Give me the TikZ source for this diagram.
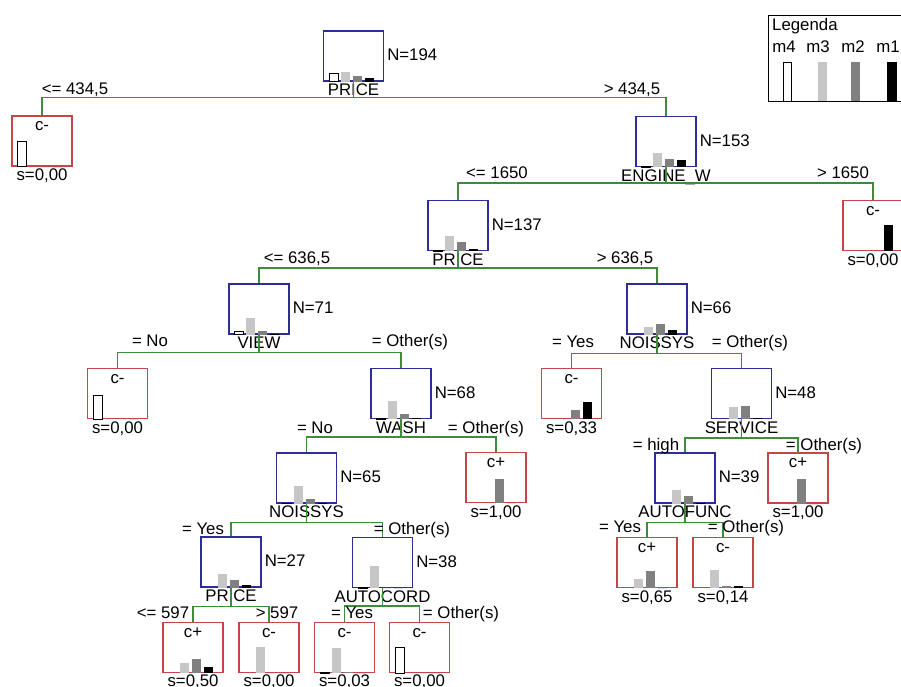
\documentclass[tikz,border=0pt]{standalone}
\usepackage{fontspec}
\setmainfont{Liberation Sans}
\usetikzlibrary{positioning}
\definecolor{splitblue}{RGB}{45,45,150}
\definecolor{leafred}{RGB}{196,70,70}
\definecolor{edgegreen}{RGB}{60,140,60}
\definecolor{mthree}{RGB}{198,198,198}
\definecolor{mtwo}{RGB}{128,128,128}
\tikzset{
  split/.style={draw=splitblue, line width=1.1pt, minimum width=60pt, minimum height=50pt, inner sep=0pt},
  leaf/.style={draw=leafred, line width=1.1pt, minimum width=60pt, minimum height=50pt, inner sep=0pt},
  txt/.style={inner sep=0pt, text height=12pt, text depth=3pt, font=\fontsize{16.8}{18}\selectfont},
  edge/.style={draw=edgegreen, line width=1.4pt},
  barfour/.style={draw=black, line width=0.8pt, fill=white},
  barthree/.style={fill=mthree},
  bartwo/.style={fill=mtwo},
  barone/.style={fill=black},
}
% class bars m4 m3 m2 m1 on the bottom of a box
\newcommand\hist[5]{%
  \ifdim#2pt>0pt \path[barfour] ([xshift=6pt]#1.south west) rectangle ++(9pt,#2pt);\fi
  \path[barthree] ([xshift=18pt]#1.south west) rectangle ++(9pt,#3pt);
  \path[bartwo] ([xshift=30pt]#1.south west) rectangle ++(9pt,#4pt);
  \path[barone] ([xshift=42pt]#1.south west) rectangle ++(9pt,#5pt);
}

\begin{document}
\begin{tikzpicture}[x=1pt, y=-1pt]
  \path[use as bounding box, fill=white] (0,0) rectangle (901,686);
  \clip (0,0) rectangle (901,686);

  % split nodes
  \node[split] (n1) at (353.5,56) {};
  \node[txt, right=3pt of n1] (n1N) {N=194};
  \node[txt, below=2pt of n1] (n1v) {PRICE};
  \node[split] (n2) at (666,141.5) {};
  \node[txt, right=3pt of n2] (n2N) {N=153};
  \node[txt, below=2pt of n2] (n2v) {ENGINE\_W};
  \node[split] (n3) at (458,225.5) {};
  \node[txt, right=3pt of n3] (n3N) {N=137};
  \node[txt, below=2pt of n3] (n3v) {PRICE};
  \node[split] (n4) at (259,309) {};
  \node[txt, right=3pt of n4] (n4N) {N=71};
  \node[txt, below=2pt of n4] (n4v) {VIEW};
  \node[split] (n5) at (657,309) {};
  \node[txt, right=3pt of n5] (n5N) {N=66};
  \node[txt, below=2pt of n5] (n5v) {NOISSYS};
  \node[split] (n6) at (401,393.5) {};
  \node[txt, right=3pt of n6] (n6N) {N=68};
  \node[txt, below=2pt of n6] (n6v) {WASH};
  \node[split] (n7) at (741.5,393.5) {};
  \node[txt, right=3pt of n7] (n7N) {N=48};
  \node[txt, below=2pt of n7] (n7v) {SERVICE};
  \node[split] (n8) at (306.5,478) {};
  \node[txt, right=3pt of n8] (n8N) {N=65};
  \node[txt, below=2pt of n8] (n8v) {NOISSYS};
  \node[split] (n9) at (685,478) {};
  \node[txt, right=3pt of n9] (n9N) {N=39};
  \node[txt, below=2pt of n9] (n9v) {AUTOFUNC};
  \node[split] (n10) at (231,562) {};
  \node[txt, right=3pt of n10] (n10N) {N=27};
  \node[txt, below=2pt of n10] (n10v) {PRICE};
  \node[split] (n11) at (382.5,562.5) {};
  \node[txt, right=3pt of n11] (n11N) {N=38};
  \node[txt, below=2pt of n11] (n11v) {AUTOCORD};

  % leaves
  \node[leaf] (l1) at (42,141) {};
  \node[txt, below=3pt of l1.north] (l1c) {c-};
  \node[txt, below=2pt of l1] (l1s) {s=0,00};
  \node[leaf] (l2) at (873,225.5) {};
  \node[txt, below=3pt of l2.north] (l2c) {c-};
  \node[txt, below=2pt of l2] (l2s) {s=0,00};
  \node[leaf] (l3) at (117.5,393.5) {};
  \node[txt, below=3pt of l3.north] (l3c) {c-};
  \node[txt, below=2pt of l3] (l3s) {s=0,00};
  \node[leaf] (l4) at (571.5,393.5) {};
  \node[txt, below=3pt of l4.north] (l4c) {c-};
  \node[txt, below=2pt of l4] (l4s) {s=0,33};
  \node[leaf] (l5) at (496,477.5) {};
  \node[txt, below=3pt of l5.north] (l5c) {c+};
  \node[txt, below=2pt of l5] (l5s) {s=1,00};
  \node[leaf] (l6) at (798,478) {};
  \node[txt, below=3pt of l6.north] (l6c) {c+};
  \node[txt, below=2pt of l6] (l6s) {s=1,00};
  \node[leaf] (l7) at (647,562.5) {};
  \node[txt, below=3pt of l7.north] (l7c) {c+};
  \node[txt, below=2pt of l7] (l7s) {s=0,65};
  \node[leaf] (l8) at (723,562.5) {};
  \node[txt, below=3pt of l8.north] (l8c) {c-};
  \node[txt, below=2pt of l8] (l8s) {s=0,14};
  \node[leaf] (l9) at (193,647.5) {};
  \node[txt, below=3pt of l9.north] (l9c) {c+};
  \node[txt, below=1pt of l9] (l9s) {s=0,50};
  \node[leaf] (l10) at (269,647.5) {};
  \node[txt, below=3pt of l10.north] (l10c) {c-};
  \node[txt, below=1pt of l10] (l10s) {s=0,00};
  \node[leaf] (l11) at (344.5,647.5) {};
  \node[txt, below=3pt of l11.north] (l11c) {c-};
  \node[txt, below=1pt of l11] (l11s) {s=0,03};
  \node[leaf] (l12) at (419.5,647.5) {};
  \node[txt, below=3pt of l12.north] (l12c) {c-};
  \node[txt, below=1pt of l12] (l12s) {s=0,00};

  % split points and edges
  \coordinate (s1) at ([yshift=-16pt]n1.south);
  \coordinate (s2) at ([yshift=-16pt]n2.south);
  \coordinate (s3) at ([yshift=-17pt]n3.south);
  \coordinate (s4) at ([yshift=-18pt]n4.south);
  \coordinate (s5) at ([yshift=-19pt]n5.south);
  \coordinate (s6) at ([yshift=-18pt]n6.south);
  \coordinate (s7) at ([yshift=-19pt]n7.south);
  \coordinate (s8) at ([yshift=-19pt]n8.south);
  \coordinate (s9) at ([yshift=-19pt]n9.south);
  \coordinate (s10) at ([yshift=-19pt]n10.south);
  \coordinate (s11) at ([yshift=-18pt]n11.south);
  \draw[edge] (n1.south) -- (s1);
  \draw[edge] (l1.north) |- (s1) -| (n2.north);
  \draw[edge] (n2.south) -- (s2);
  \draw[edge] (n3.north) |- (s2) -| (l2.north);
  \draw[edge] (n3.south) -- (s3);
  \draw[edge] (n4.north) |- (s3) -| (n5.north);
  \draw[edge] (n4.south) -- (s4);
  \draw[edge] (l3.north) |- (s4) -| (n6.north);
  \draw[edge] (n5.south) -- (s5);
  \draw[edge] (l4.north) |- (s5) -| (n7.north);
  \draw[edge] (n6.south) -- (s6);
  \draw[edge] (n8.north) |- (s6) -| (l5.north);
  \draw[edge] (n7.south) -- (s7);
  \draw[edge] (n9.north) |- (s7) -| (l6.north);
  \draw[edge] (n8.south) -- (s8);
  \draw[edge] (n10.north) |- (s8) -| (n11.north);
  \draw[edge] (n9.south) -- (s9);
  \draw[edge] (l7.north) |- (s9) -| (l8.north);
  \draw[edge] (n10.south) -- (s10);
  \draw[edge] (l9.north) |- (s10) -| (l10.north);
  \draw[edge] (n11.south) -- (s11);
  \draw[edge] (l11.north) |- (s11) -| (l12.north);

  % branch labels
  \node[txt] (b1a) at (75,90) {<= 434,5};
  \node[txt] (b1b) at (632,90) {> 434,5};
  \node[txt] (b2a) at (497,174) {<= 1650};
  \node[txt] (b2b) at (843,174) {> 1650};
  \node[txt] (b3a) at (297,259) {<= 636,5};
  \node[txt] (b3b) at (625,259) {> 636,5};
  \node[txt] (b4a) at (150,342) {= No};
  \node[txt] (b4b) at (410,342) {= Other(s)};
  \node[txt] (b5a) at (573,343) {= Yes};
  \node[txt] (b5b) at (750,343) {= Other(s)};
  \node[txt] (b6a) at (315,429) {= No};
  \node[txt] (b6b) at (486,429) {= Other(s)};
  \node[txt] (b7a) at (656,446) {= high};
  \node[txt] (b7b) at (824,446) {= Other(s)};
  \node[txt] (b8a) at (203,530) {= Yes};
  \node[txt] (b8b) at (412,530) {= Other(s)};
  \node[txt] (b9a) at (620,528) {= Yes};
  \node[txt] (b9b) at (746,528) {= Other(s)};
  \node[txt] (b10a) at (163,614) {<= 597};
  \node[txt] (b10b) at (277,614) {> 597};
  \node[txt] (b11a) at (352,614) {= Yes};
  \node[txt] (b11b) at (461,614) {= Other(s)};

  % class histograms
  \hist{n1}{8}{10}{6}{4}
  \hist{n2}{0.5}{14}{8}{7}
  \hist{n3}{0.5}{15}{9}{2}
  \hist{n4}{3}{17}{4}{1}
  \hist{n5}{0}{8}{11}{5}
  \hist{n6}{0.5}{18}{5}{1}
  \hist{n7}{0}{12}{13}{1}
  \hist{n8}{0.5}{18}{5}{1}
  \hist{n9}{0}{14}{8}{1}
  \hist{n10}{0}{14}{8}{3}
  \hist{n11}{0.5}{22}{0}{0}
  \hist{l1}{25}{0}{0}{0}
  \hist{l2}{0}{0}{0}{26}
  \hist{l3}{24}{0}{0}{0}
  \hist{l4}{0}{0}{9}{17}
  \hist{l5}{0}{0}{24}{0}
  \hist{l6}{0}{0}{25}{0}
  \hist{l7}{0}{9}{17}{0}
  \hist{l8}{0}{18}{2}{2}
  \hist{l9}{0}{10}{14}{6}
  \hist{l10}{0}{26}{0}{0}
  \hist{l11}{0.5}{25}{1}{0}
  \hist{l12}{26}{0}{0}{0}

  % legend
  \draw[line width=1pt] (768,15) rectangle (906,101);
  \node[txt, anchor=west] (leg) at (772,26) {Legenda};
  \node[txt] (lm4) at (784,48) {m4};
  \node[txt] (lm3) at (818,48) {m3};
  \node[txt] (lm2) at (853,48) {m2};
  \node[txt] (lm1) at (888,48) {m1};
  \path[barfour] (783,101) rectangle (791,62);
  \path[barthree] (818,101) rectangle (827,62);
  \path[bartwo] (851,101) rectangle (860,62);
  \path[barone] (887,101) rectangle (897,62);
\end{tikzpicture}
\end{document}
